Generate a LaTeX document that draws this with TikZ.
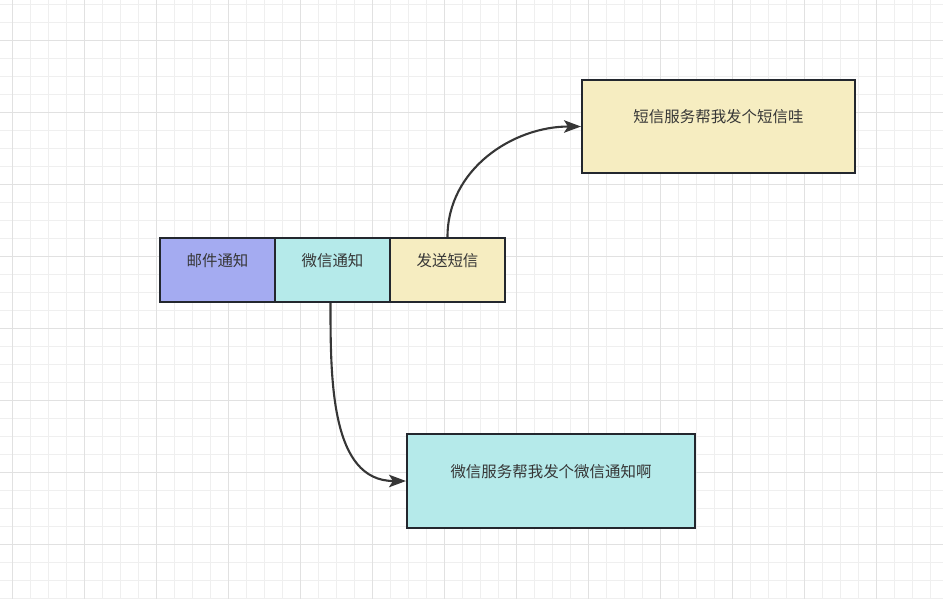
\documentclass[tikz,border=0pt]{standalone}
\usepackage{fontspec}
\setmainfont{Noto Sans CJK SC}
\usetikzlibrary{arrows.meta}

\definecolor{gridminor}{HTML}{EFEFEF}
\definecolor{gridmajor}{HTML}{E1E1E1}
\definecolor{edgegray}{HTML}{23272E}
\definecolor{txtgray}{HTML}{363636}
\definecolor{mailfill}{HTML}{A4ABF1}
\definecolor{wxfill}{HTML}{B5EAEA}
\definecolor{smsfill}{HTML}{F6EDC1}

\begin{document}
\begin{tikzpicture}[x=0.02cm, y=-0.02cm,
    box/.style={draw=edgegray, line width=1.2pt, text=txtgray,
        font=\fontsize{8.8pt}{10pt}\selectfont,
        text height=7.7pt, text depth=11.9pt, inner sep=0pt},
    flow/.style={draw=txtgray, line width=1.2pt, -{Stealth[length=0.34cm, width=0.25cm, inset=0.08cm]}}]
    \useasboundingbox (0,0) rectangle (943,599);

    % Background grid
    \foreach \x in {-5.7,12.3,...,950} {
        \draw[gridminor, line width=0.5pt] (\x,0) -- (\x,599);
    }
    \foreach \y in {4.3,22.3,...,610} {
        \draw[gridminor, line width=0.5pt] (0,\y) -- (943,\y);
    }
    \foreach \x in {12.3,84.3,...,950} {
        \draw[gridmajor, line width=0.5pt] (\x,0) -- (\x,599);
    }
    \foreach \y in {40.3,112.3,...,610} {
        \draw[gridmajor, line width=0.5pt] (0,\y) -- (943,\y);
    }

    % Channel boxes
    \node[box, fill=mailfill, minimum width=2.3cm, minimum height=1.28cm] (mail) at (217.5,270) {邮件通知};
    \node[box, fill=wxfill, minimum width=2.3cm, minimum height=1.28cm] (wechat) at (332.5,270) {微信通知};
    \node[box, fill=smsfill, minimum width=2.3cm, minimum height=1.28cm] (send) at (447.5,270) {发送短信};

    % Service boxes
    \node[box, fill=smsfill, minimum width=5.46cm, minimum height=1.86cm] (smssvc) at (718.5,126.5) {短信服务帮我发个短信哇};
    \node[box, fill=wxfill, minimum width=5.76cm, minimum height=1.88cm] (wxsvc) at (551,481) {微信服务帮我发个微信通知啊};

    % Curved connectors
    \draw[flow] (send.north) to[out=90, in=180] (smssvc.west);
    \draw[flow] ([xshift=-0.04cm]wechat.south) to[out=-90, in=180] (wxsvc.west);

\end{tikzpicture}
\end{document}
